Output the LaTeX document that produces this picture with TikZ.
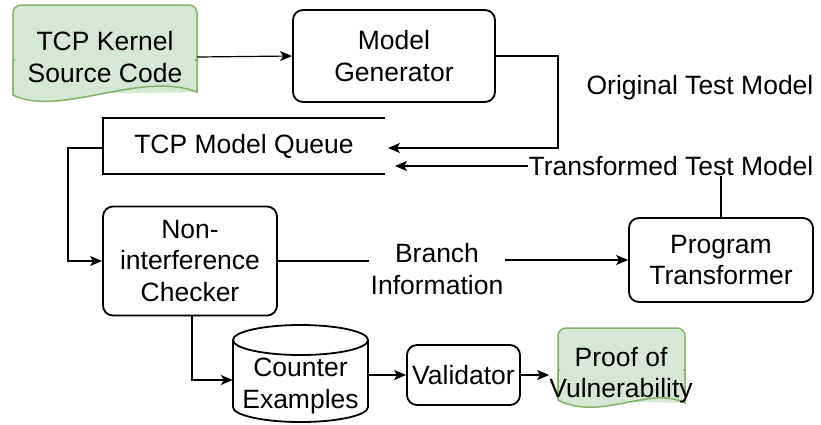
\documentclass[tikz,border=0pt]{standalone}
\usepackage{fontspec}
\setmainfont{Liberation Sans}
\usetikzlibrary{arrows.meta}
\definecolor{docfill}{HTML}{D5E8D4}
\definecolor{docline}{HTML}{82B366}
\begin{document}
\begin{tikzpicture}[x=1pt,y=-1pt,
  every node/.style={font=\fontsize{26.5}{31.5}\selectfont, align=center, inner sep=0pt},
  box/.style={draw, line width=1.8pt, rounded corners=10pt},
  docshape/.style={fill=docfill, draw=docline, line width=1.5pt},
  conn/.style={line width=1.2pt},
  arr/.style={conn, -{Stealth[length=12pt,width=10pt,inset=3pt]}}]
\useasboundingbox (0,0) rectangle (821,424);
% document shapes
\draw[docshape, rounded corners=8pt] (13,95) -- (13,5) -- (197,5) -- (197,92);
\draw[docshape] (13,95) -- (13,60) -- (197,60) -- (197,92) .. controls (140,70) and (60,118) .. (13,95) -- cycle;
\fill[docfill, rounded corners=8pt] (14.5,65) -- (14.5,6.5) -- (195.5,6.5) -- (195.5,65) -- cycle;
\draw[docshape, rounded corners=8pt] (558,400) -- (558,328) -- (685,328) -- (685,403);
\draw[docshape] (558,400) -- (558,370) -- (685,370) -- (685,403) .. controls (650,385) and (600,422) .. (558,400) -- cycle;
\fill[docfill, rounded corners=8pt] (559.5,375) -- (559.5,329.5) -- (683.5,329.5) -- (683.5,375) -- cycle;
% nodes
\node[minimum width=184pt, minimum height=90pt] (src) at (105,57) {TCP Kernel\\Source Code};
\node[box, minimum width=202pt, minimum height=92pt] (mg) at (394,56) {Model\\Generator};
\node[minimum width=282pt, minimum height=55pt] (queue) at (244,146) {TCP Model Queue};
\draw[line width=2pt] (queue.north east) -- (queue.north west) -- (queue.south west) -- (queue.south east);
\node[box, minimum width=174pt, minimum height=109pt] (chk) at (190,261) {Non-\\interference\\Checker};
\node[box, minimum width=184pt, minimum height=84pt] (pt) at (721,260) {Program\\Transformer};
% cylinder
\draw[line width=1.8pt] (233,340) -- (233,407) arc[start angle=180, end angle=360, x radius=67.5pt, y radius=15pt] -- (368,340);
\draw[line width=1.8pt] (300.5,340) ellipse[x radius=67.5pt, y radius=15pt];
\node[minimum width=135pt, minimum height=80pt] (cyl) at (300.5,379) {};
\node at (300.5,386) {Counter\\Examples};
\node[box, minimum width=113pt, minimum height=60pt] (val) at (463.5,375) {Validator};
\node[minimum width=127pt, minimum height=70pt] (proof) at (621,375) {Proof of\\Vulnerability};
% labels
\node (orig) at (700,88) {Original Test Model};
\node (trans) at (671,166) {Transformed Test Model};
\node[fill=white, inner sep=2pt] (branch) at (437,269) {Branch\\Information};
% connectors
\coordinate (qin1) at (388,148);
\coordinate (qin2) at (395,166);
\coordinate (bend1) at (558,56);
\coordinate (qleft) at (68,148);
\draw[arr] (src.east) -- (mg.west);
\draw[arr] (mg.east) -- (bend1) |- (qin1);
\draw[conn] (pt.north) -- (pt.north |- trans.south);
\draw[arr] (trans.west) -- (qin2);
\draw[arr] (queue.west |- qleft) -- (qleft) |- (chk.west);
\draw[conn] (chk.east) -- (branch.west |- chk.east);
\draw[arr] (branch.east |- pt.west) -- (pt.west);
\draw[arr] (chk.south -| 192,0) -- (192,380) -- (cyl.west |- 0,380);
\draw[arr] (cyl.east |- val.west) -- (val.west);
\draw[arr] (val.east) -- (proof.west);
\end{tikzpicture}
\end{document}
